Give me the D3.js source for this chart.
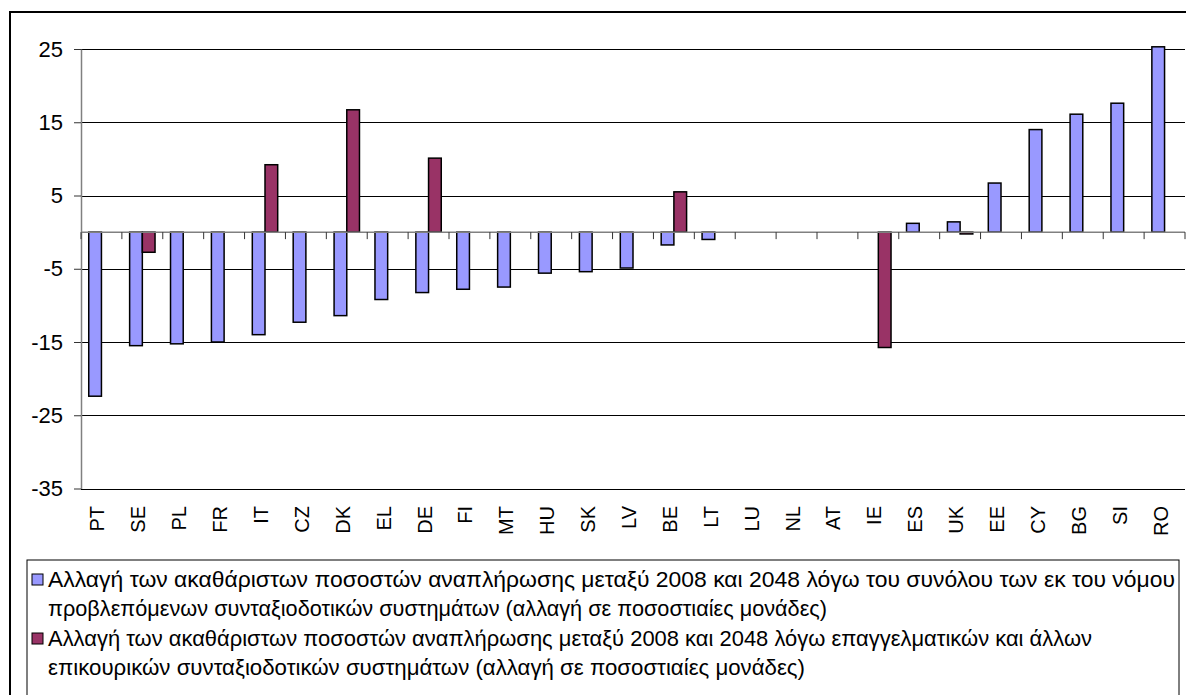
<!DOCTYPE html>
<html>
  <head>
    <meta charset="utf-8">
    <title>Αλλαγή ποσοστών αναπλήρωσης 2008-2048</title>
    <script src="https://cdn.jsdelivr.net/npm/d3@7"></script>
    <style>
      body { margin: 0; background: #fff; }
      svg { display: block; font-family: Arial, "Liberation Sans", sans-serif; }
      .grid { stroke: #000; stroke-width: 1; }
      .zero { stroke: #808080; stroke-width: 1.5; }
      .bar { stroke: #000; stroke-width: 1.5; }
    </style>
  </head>
  <body>
    <svg id="chart" width="1186" height="695"></svg>
    <script>
      // values
      const countries = ["PT", "SE", "PL", "FR", "IT", "CZ", "DK", "EL", "DE", "FI", "MT", "HU", "SK", "LV",
        "BE", "LT", "LU", "NL", "AT", "IE", "ES", "UK", "EE", "CY", "BG", "SI", "RO"];
      const statutory = [-22.4, -15.5, -15.25, -15.0, -14.0, -12.3, -11.4, -9.2, -8.25, -7.8, -7.5, -5.6, -5.4, -4.9,
        -1.75, -1.0, 0, 0, 0, 0, 1.2, 1.4, 6.7, 14.0, 16.1, 17.6, 25.3];
      const occupational = [null, -2.75, null, null, 9.2, null, 16.7, null, 10.1, null, null, null, null, null,
        5.5, null, null, null, null, -15.75, null, -0.25, null, null, null, null, null];
      const yTicks = [25, 15, 5, -5, -15, -25, -35];
      const seriesNames = ["statutory", "occupational"];
      const seriesColours = ["#9999ff", "#993366"];
      const legendLines = [
        "Αλλαγή των ακαθάριστων ποσοστών αναπλήρωσης μεταξύ 2008 και 2048 λόγω του συνόλου των εκ του νόμου",
        "προβλεπόμενων συνταξιοδοτικών συστημάτων (αλλαγή σε ποσοστιαίες μονάδες)",
        "Αλλαγή των ακαθάριστων ποσοστών αναπλήρωσης μεταξύ 2008 και 2048 λόγω επαγγελματικών και άλλων",
        "επικουρικών συνταξιοδοτικών συστημάτων (αλλαγή σε ποσοστιαίες μονάδες)"
      ];
      // widths the legend lines take in the original
      const legendWidths = [1127, 779, 1044, 757];

      const svg = d3.select("#chart");
      const plot = { left: 81, right: 1185, top: 49, bottom: 488.5 };

      // outer frame and legend box
      svg.append("rect")
        .attr("x", 10).attr("y", 12)
        .attr("width", 1190).attr("height", 700)
        .attr("fill", "none").attr("stroke", "#000").attr("stroke-width", 2);
      svg.append("rect")
        .attr("x", 27).attr("y", 560)
        .attr("width", 1152).attr("height", 150)
        .attr("fill", "none").attr("stroke", "#000").attr("stroke-width", 1);

      const x = d3.scaleBand()
        .domain(countries)
        .range([plot.left, plot.right]);
      const xs = d3.scaleBand()
        .domain(seriesNames)
        .range([0, x.bandwidth()])
        .paddingInner(0)
        .paddingOuter(0.61);
      const y = d3.scaleLinear()
        .domain([-35, 25])
        .range([plot.bottom, plot.top]);

      // gridlines
      svg.append("g")
        .selectAll("line")
        .data(yTicks)
        .join("line")
          .classed("grid", true)
          .attr("x1", plot.left).attr("x2", plot.right)
          .attr("y1", function(d) { return Math.round(y(d)) + 0.5; })
          .attr("y2", function(d) { return Math.round(y(d)) + 0.5; });

      // y axis (plain hyphen for negatives, as in the original)
      const yAxis = d3.axisLeft(y)
        .tickValues(yTicks)
        .tickFormat(function(d) { return String(d); })
        .tickSize(7)
        .tickPadding(11)
        .tickSizeOuter(0);
      const yAxisGroup = svg.append("g")
        .attr("transform", "translate(" + plot.left + ",0)")
        .call(yAxis);
      yAxisGroup.select(".domain").attr("stroke", "#808080").attr("stroke-width", 1.5);
      yAxisGroup.selectAll(".tick line").attr("stroke", "#333");
      yAxisGroup.selectAll(".tick text")
        .attr("fill", "#000")
        .style("font-size", "22px")
        .style("font-family", "Arial, 'Liberation Sans', sans-serif");

      // bars
      const table = countries.map(function(c, i) {
        return [
          { country: c, series: "statutory", value: statutory[i] },
          { country: c, series: "occupational", value: occupational[i] }
        ];
      }).flat().filter(function(d) { return d.value !== null && d.value !== 0; });

      svg.append("g")
        .selectAll("rect")
        .data(table)
        .join("rect")
          .classed("bar", true)
          .attr("x", function(d) { return x(d.country) + xs(d.series); })
          .attr("width", xs.bandwidth())
          .attr("y", function(d) { return y(Math.max(0, d.value)); })
          .attr("height", function(d) { return Math.abs(y(d.value) - y(0)); })
          .attr("fill", function(d) { return seriesColours[seriesNames.indexOf(d.series)]; });

      // category axis at zero
      const y0 = y(0);
      svg.append("line")
        .classed("zero", true)
        .attr("x1", plot.left).attr("x2", plot.right)
        .attr("y1", y0).attr("y2", y0);
      svg.append("g")
        .selectAll("line")
        .data(countries.concat(["end"]))
        .join("line")
          .attr("x1", function(d) { return d === "end" ? plot.right : x(d); })
          .attr("x2", function(d) { return d === "end" ? plot.right : x(d); })
          .attr("y1", y0).attr("y2", y0 + 7)
          .attr("stroke", "#333").attr("stroke-width", 1);

      // category labels
      svg.append("g")
        .selectAll("text")
        .data(countries)
        .join("text")
          .attr("transform", function(d) {
            return "translate(" + (x(d) + x.bandwidth() / 2 - 4) + ",506) rotate(-90)";
          })
          .attr("text-anchor", "end")
          .attr("dy", "0.35em")
          .style("font-size", "20px")
          .text(function(d) { return d; });

      // legend
      const legend = svg.append("g");
      legend.selectAll("rect")
        .data(seriesColours)
        .join("rect")
          .attr("x", 32)
          .attr("y", function(d, i) { return 574 + i * 59; })
          .attr("width", 11).attr("height", 11)
          .attr("fill", function(d) { return d; })
          .attr("stroke", "#000").attr("stroke-width", 1);
      legend.append("g")
          .style("font-size", "22px")
        .selectAll("text")
        .data(legendLines)
        .join("text")
          .attr("x", 48)
          .attr("y", function(d, i) { return 587 + i * 29 + (i > 1 ? 1 : 0); })
          .attr("textLength", function(d, i) { return legendWidths[i]; })
          .attr("lengthAdjust", "spacingAndGlyphs")
          .text(function(d) { return d; });
    </script>
  </body>
</html>
